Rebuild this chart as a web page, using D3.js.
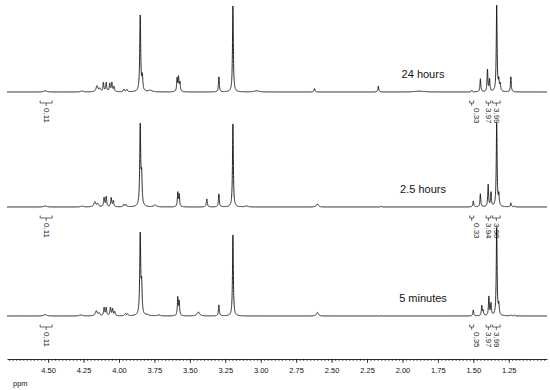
<!DOCTYPE html>
<html><head><meta charset="utf-8">
<script src="https://cdn.jsdelivr.net/npm/d3@7"></script>
<style>
html,body{margin:0;padding:0;background:#fff;}
svg{display:block;font-family:Arial,"Liberation Sans",sans-serif;}
</style></head>
<body>
<svg id="c" width="550" height="390"></svg>
<script>
// ---- data: peak lists [chemical shift (ppm), intensity, half-width (ppm)] ----
const spectrumLabels = ["24 hours", "2.5 hours", "5 minutes"];
const peaks24h = [
  [4.52,1.2,0.012],[4.26,1,0.01],[4.155,6,0.008],[4.135,3,0.006],[4.11,9,0.004],[4.09,9,0.004],
  [4.065,8,0.004],[4.05,9,0.004],[4.035,5,0.004],[3.965,2.5,0.005],[3.945,2.5,0.005],
  [3.85,76,0.004],[3.835,14,0.004],[3.78,1.5,0.015],[3.59,13,0.0035],[3.58,14,0.0035],[3.57,9,0.0035],
  [3.295,15,0.0035],[3.196,86,0.0035],[3.03,1.2,0.02],[2.62,3.5,0.004],[2.17,6,0.0035],[1.88,0.8,0.04],
  [1.51,1.5,0.004],[1.45,13,0.0035],[1.40,22,0.0035],[1.385,12,0.0035],[1.335,86,0.0035],[1.32,10,0.0035],
  [1.31,7,0.0035],[1.235,15,0.0035]
];
const peaks25h = [
  [4.52,1,0.012],[4.26,0.8,0.01],[4.17,5,0.008],[4.15,3,0.006],[4.105,9,0.004],[4.09,10,0.004],
  [4.055,9,0.004],[4.04,6,0.004],[3.965,2.5,0.005],[3.95,2,0.005],[3.85,80,0.004],[3.84,28,0.004],
  [3.745,2,0.01],[3.585,14,0.0035],[3.575,12,0.0035],[3.38,8,0.004],[3.295,13,0.0035],[3.196,83,0.0035],
  [3.10,1,0.01],[2.60,3,0.008],[2.15,1,0.003],[1.50,6,0.0035],[1.45,13,0.0035],[1.395,22,0.0035],
  [1.375,14,0.0035],[1.335,83,0.0035],[1.32,11,0.0035],[1.235,4,0.0035],[1.21,1,0.003]
];
const peaks5min = [
  [4.52,1.5,0.012],[4.27,1,0.012],[4.16,5,0.008],[4.14,2.5,0.006],[4.105,8,0.004],[4.09,8,0.004],
  [4.06,8,0.004],[4.045,7,0.004],[4.03,4,0.004],[3.955,2,0.006],[3.94,2,0.005],[3.85,80,0.004],
  [3.84,28,0.004],[3.80,1,0.01],[3.72,1,0.01],[3.585,18,0.0035],[3.575,14,0.0035],[3.44,4,0.01],
  [3.295,11,0.0035],[3.196,81,0.0035],[2.60,3.5,0.008],[2.15,0.5,0.003],[1.50,6,0.0035],[1.44,10,0.0035],
  [1.43,5,0.0035],[1.39,19,0.0035],[1.375,12,0.0035],[1.335,88,0.0035],[1.32,10,0.0035],[1.235,1,0.004],[1.21,1,0.004]
];
// integral regions [from ppm, to ppm, value]
const integrals24h = [[4.556,4.471,"0.11"],[1.525,1.497,"0.33"],[1.41,1.377,"3.97"],[1.365,1.31,"3.99"]];
const integrals25h = [[4.556,4.471,"0.11"],[1.525,1.497,"0.33"],[1.41,1.377,"3.94"],[1.365,1.31,"3.90"]];
const integrals5min = [[4.556,4.471,"0.11"],[1.525,1.497,"0.35"],[1.41,1.377,"3.97"],[1.365,1.31,"3.99"]];
const majorTicks = [4.50,4.25,4.00,3.75,3.50,3.25,3.00,2.75,2.50,2.25,2.00,1.75,1.50,1.25];

// ---- layout ----
const svg = d3.select("#c");
const x = d3.scaleLinear().domain([4.79, 0.98]).range([7, 547]);
const baselines = [92, 207, 316];
const spectra = [peaks24h, peaks25h, peaks5min];
const integrals = [integrals24h, integrals25h, integrals5min];
const labelNudge = [0, 5, 0, 0];

const grid = d3.range(4.79, 0.98, -0.0005);
function intensity(p, peaks){
  let s = 0;
  for (const [c,h,g] of peaks){ const d = p - c; s += h*g*g/(d*d+g*g); }
  return s;
}

spectra.forEach((peaks, i) => {
  const y = d3.scaleLinear().domain([0,100]).range([baselines[i], baselines[i]-100]);
  const line = d3.line().x(d => x(d)).y(d => y(intensity(d, peaks)));
  svg.append("path").datum(grid).attr("d", line)
    .attr("fill","none").attr("stroke","#111").attr("stroke-width",0.9).attr("stroke-linejoin","round");

  svg.append("text").attr("x", 423).attr("y", baselines[i]-14)
    .attr("text-anchor","middle").attr("font-size",11).attr("fill","#111").text(spectrumLabels[i]);

  const by = baselines[i] + 11;
  integrals[i].forEach(([a,b,v], k) => {
    const x0 = x(a), x1 = x(b), xm = (x0+x1)/2;
    svg.append("path")
      .attr("d", `M${x0},${by-2.5}V${by}H${x1}V${by-2.5}M${xm},${by}V${by+3}`)
      .attr("fill","none").attr("stroke","#222").attr("stroke-width",0.7);
    svg.append("text").attr("transform", `translate(${xm+labelNudge[k]},${by+5}) rotate(90)`)
      .attr("dominant-baseline","central").attr("font-size",8).attr("fill","#222").text(v);
  });
});

// ---- axis ----
const axisY = 359;
const minor = d3.range(4.775, 0.98, -0.025);
svg.append("g").attr("transform",`translate(0,${axisY})`)
  .call(d3.axisBottom(x).tickValues(minor).tickSize(2).tickFormat("").tickSizeOuter(0))
  .call(g => g.selectAll("line").attr("stroke-width",0.6))
  .call(g => g.select(".domain").attr("stroke-width",0.8));
svg.append("g").attr("transform",`translate(0,${axisY})`)
  .call(d3.axisBottom(x).tickValues(majorTicks).tickSize(4).tickFormat(d3.format(".2f")).tickSizeOuter(0))
  .call(g => g.select(".domain").remove())
  .call(g => g.selectAll("line").attr("stroke-width",0.7))
  .call(g => g.selectAll("text").attr("font-size",7.5).attr("fill","#111").attr("font-family",'Arial,"Liberation Sans",sans-serif').attr("dy","0.9em"));
svg.append("text").attr("x",13).attr("y",386).attr("font-size",7.5).attr("fill","#111").text("ppm");
</script>
</body></html>
